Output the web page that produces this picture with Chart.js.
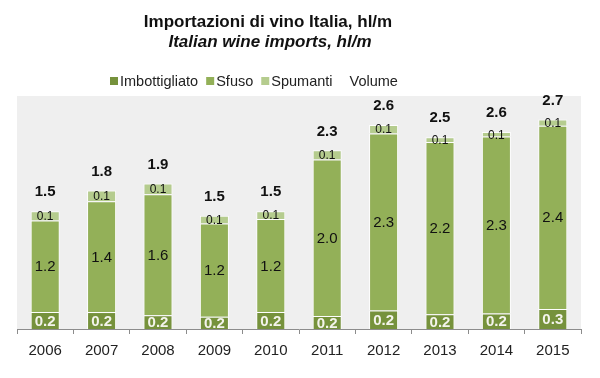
<!DOCTYPE html>
<html><head><meta charset="utf-8">
<script src="https://cdn.jsdelivr.net/npm/chart.js@4.4.1/dist/chart.umd.min.js"></script>
<style>html,body{margin:0;padding:0;background:#fff}#wrap{width:600px;height:378px}</style>
</head><body><div id="wrap"><canvas id="c" width="600" height="378"></canvas></div>
<script>
const years = ['2006','2007','2008','2009','2010','2011','2012','2013','2014','2015'];
const imbottigliato = [0.22,0.22,0.18,0.16,0.22,0.17,0.24,0.19,0.20,0.26];
const sfuso = [1.19,1.44,1.57,1.21,1.21,2.03,2.30,2.24,2.30,2.38];
const spumanti = [0.12,0.14,0.14,0.10,0.10,0.12,0.11,0.06,0.06,0.08];
const volume = [1.5,1.8,1.9,1.5,1.5,2.3,2.6,2.5,2.6,2.7];
const seriesNames = ['Imbottigliato','Sfuso','Spumanti','Volume'];
const seriesColors = ['#76923C','#93B058','#B5CC8E',null];
const titleText = 'Importazioni di vino Italia, hl/m';
const subtitleText = 'Italian wine imports, hl/m';

const FONT = "'Liberation Sans', Arial, sans-serif";

const bgPlugin = {
  id: 'bg',
  beforeDraw(chart) {
    const {ctx, chartArea: a} = chart;
    ctx.save();
    ctx.fillStyle = '#EFEFEF';
    ctx.fillRect(a.left, a.top - 2, a.right - a.left, a.bottom - a.top + 2);
    ctx.restore();
  }
};

const labelPlugin = {
  id: 'labels',
  afterDatasetsDraw(chart) {
    const ctx = chart.ctx;
    ctx.save();
    ctx.textAlign = 'center';
    ctx.textBaseline = 'middle';
    const styles = [
      {font: 'bold 15px ' + FONT, color: '#F4F4EC'},
      {font: '15px ' + FONT, color: '#111'},
      {font: '12px ' + FONT, color: '#111'}
    ];
    for (let d = 0; d < 3; d++) {
      const meta = chart.getDatasetMeta(d);
      const data = chart.data.datasets[d].data;
      ctx.font = styles[d].font;
      ctx.fillStyle = styles[d].color;
      meta.data.forEach((el, i) => {
        const cy = (el.y + el.base) / 2;
        ctx.fillText(data[i].toFixed(1), el.x, cy + 1);
      });
    }
    const top = chart.getDatasetMeta(2);
    ctx.font = 'bold 15px ' + FONT;
    ctx.fillStyle = '#111';
    top.data.forEach((el, i) => {
      ctx.fillText(volume[i].toFixed(1), el.x, el.y - 19);
    });
    ctx.restore();
  }
};

const headerPlugin = {
  id: 'header',
  afterDraw(chart) {
    const ctx = chart.ctx;
    ctx.save();
    ctx.fillStyle = '#111';
    ctx.textAlign = 'center';
    ctx.textBaseline = 'alphabetic';
    ctx.font = 'bold 17px ' + FONT;
    ctx.fillText(titleText, 268, 27);
    ctx.font = 'italic bold 17px ' + FONT;
    ctx.fillText(subtitleText, 270, 47);
    // legend
    ctx.font = '14.5px ' + FONT;
    ctx.textAlign = 'left';
    ctx.textBaseline = 'middle';
    let x = 110;
    const y = 81;
    seriesNames.forEach((name, i) => {
      if (seriesColors[i]) {
        ctx.fillStyle = seriesColors[i];
        ctx.fillRect(x, y - 4, 8, 8);
      }
      x += 10;
      ctx.fillStyle = '#222';
      ctx.fillText(name, x, y + 1);
      x += ctx.measureText(name).width + (i === 2 ? 7 : 8);
    });
    ctx.restore();
  }
};

const mk = (label, data, color) => ({
  label, data,
  backgroundColor: color,
  borderColor: 'rgba(255,255,255,0.9)',
  borderWidth: {top: 1, left: 1, right: 1, bottom: 0},
  borderSkipped: false,
  categoryPercentage: 1.0,
  barPercentage: 0.515
});

new Chart(document.getElementById('c'), {
  type: 'bar',
  data: {
    labels: years,
    datasets: [
      mk(seriesNames[0], imbottigliato, seriesColors[0]),
      mk(seriesNames[1], sfuso, seriesColors[1]),
      mk(seriesNames[2], spumanti, seriesColors[2])
    ]
  },
  options: {
    responsive: false,
    animation: false,
    devicePixelRatio: 1,
    layout: {padding: {left: 17, right: 19, top: 98, bottom: 10}},
    plugins: {legend: {display: false}, title: {display: false}, tooltip: {enabled: false}},
    scales: {
      x: {
        stacked: true,
        grid: {display: true, drawOnChartArea: false, drawTicks: true, tickLength: 5, color: '#8c8c8c', offset: true},
        border: {display: true, color: '#8c8c8c'},
        ticks: {padding: 8, color: '#222', font: {size: 15, family: FONT}}
      },
      y: {stacked: true, display: false, min: 0, max: 3}
    }
  },
  plugins: [bgPlugin, labelPlugin, headerPlugin]
});
</script>
</body></html>
